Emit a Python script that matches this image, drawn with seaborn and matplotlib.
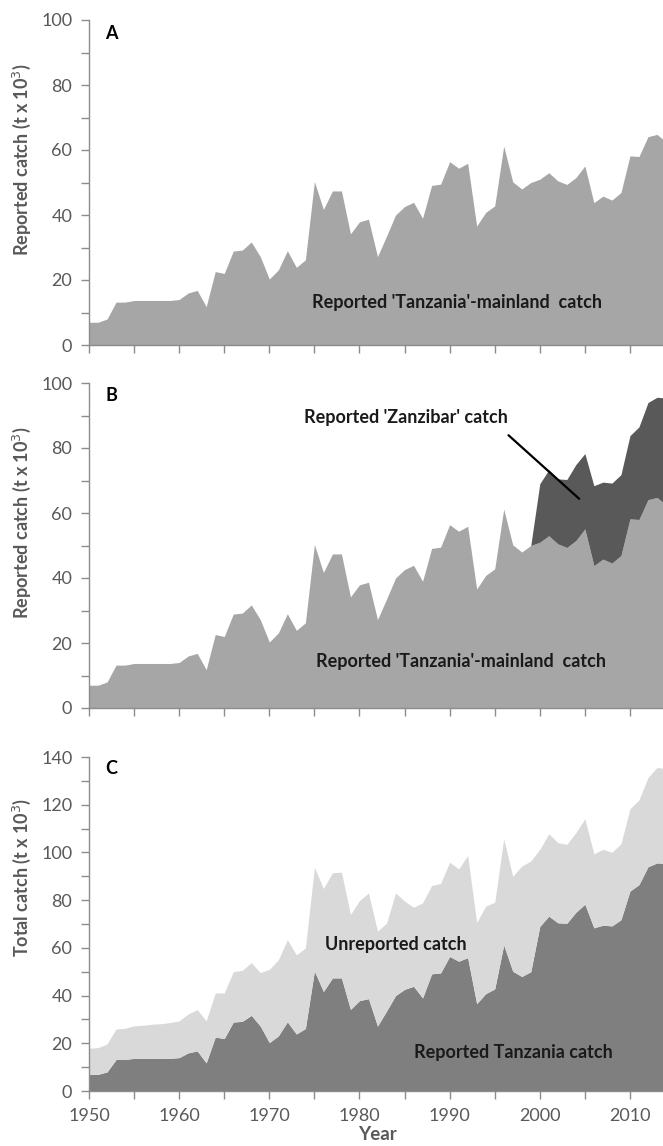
import numpy as np
import matplotlib
matplotlib.use("Agg")
import matplotlib.pyplot as plt
from matplotlib.ticker import MultipleLocator
import seaborn as sns

# data (t x 10^3)
years = list(range(1950, 2015))

mainland = [7.0, 7.0, 8.0, 13.2, 13.2, 13.7, 13.7, 13.7, 13.7, 13.7,
            14.0, 16.0, 16.8, 11.8, 22.6, 22.0, 28.9, 29.2, 31.7, 27.2,
            20.3, 23.1, 29.0, 23.9, 26.2, 50.3, 41.7, 47.4, 47.4, 34.2,
            37.9, 38.7, 27.2, 33.5, 40.0, 42.6, 43.9, 39.0, 49.1, 49.5,
            56.4, 54.4, 55.9, 36.6, 40.8, 42.8, 61.2, 50.2, 48.0, 50.0,
            51.0, 53.0, 50.5, 49.4, 51.5, 55.1, 43.8, 45.8, 44.6, 46.9,
            58.2, 58.0, 64.1, 64.8, 62.5]

# Zanzibar reported catch only from 2000 onwards
zanzibar_years = list(range(2000, 2015))
zanzibar = [18.0, 20.3, 20.0, 20.9, 23.4, 23.2, 24.6, 23.7, 24.6, 24.9,
            25.6, 28.5, 29.9, 30.8, 32.9]

total = [17.9, 18.2, 19.7, 26.0, 26.3, 27.3, 27.6, 28.0, 28.2, 28.7,
         29.4, 32.3, 34.1, 29.4, 41.1, 41.1, 50.0, 50.6, 53.8, 49.6,
         51.0, 55.0, 63.4, 57.1, 59.9, 93.8, 84.9, 91.5, 91.7, 74.0,
         79.8, 83.0, 67.0, 70.4, 83.0, 79.6, 77.0, 78.9, 86.1, 87.0,
         95.9, 93.1, 98.7, 70.7, 77.5, 79.1, 105.7, 90.0, 94.3, 96.4,
         101.3, 107.8, 104.1, 103.4, 108.3, 114.1, 99.4, 101.3, 100.1, 103.6,
         118.3, 122.0, 131.4, 135.6, 135.2]

x = np.array(years)
main = np.array(mainland)
zan = np.zeros(len(years))
for yr, v in zip(zanzibar_years, zanzibar):
    zan[years.index(yr)] = v
reported = main + zan
tot = np.array(total)

sns.set_theme(style="ticks")
plt.rcParams['font.family'] = ['Lato', 'DejaVu Sans']

axis_grey = '#8c8c8c'
label_grey = '#595959'
text_col = '#1a1a1a'

fig = plt.figure(figsize=(6.63, 11.46), dpi=100)
W, H = 663, 1146
left = 89 / W
width = (666 - 89) / W

axA = fig.add_axes([left, 1 - 345 / H, width, 325 / H])
axB = fig.add_axes([left, 1 - 708 / H, width, 325 / H])
axC = fig.add_axes([left, 1 - 1091 / H, width, 334 / H])

# panel A
axA.fill_between(x, 0, main, color='#a6a6a6', lw=0)
# panel B
axB.fill_between(x, 0, main, color='#a6a6a6', lw=0)
axB.fill_between(x, main, reported, where=x >= 1999, color='#595959', lw=0)
# panel C
axC.fill_between(x, 0, reported, color='#7f7f7f', lw=0)
axC.fill_between(x, reported, tot, color='#d9d9d9', lw=0)

for ax, ymax in [(axA, 100), (axB, 100), (axC, 140)]:
    ax.set_xlim(1950, 2014)
    ax.set_ylim(0, ymax)
    ax.yaxis.set_major_locator(MultipleLocator(20))
    ax.yaxis.set_minor_locator(MultipleLocator(10))
    ax.set_xticks(range(1950, 2015, 5))
    sns.despine(ax=ax)
    for s in ['left', 'bottom']:
        ax.spines[s].set_color(axis_grey)
        ax.spines[s].set_linewidth(1.0)
    ax.tick_params(which='both', direction='out', length=6, width=1,
                   color=axis_grey, labelcolor=label_grey, labelsize=13, pad=6)
    ax.set_facecolor('none')

for ax in (axA, axB):
    ax.set_xticklabels([])
axC.set_xticklabels([str(y) if y % 10 == 0 else '' for y in range(1950, 2015, 5)])

ylab_kw = dict(fontsize=13, fontweight='bold', color=label_grey)
axA.set_ylabel("Reported catch (t x 10$^3$)", **ylab_kw)
axB.set_ylabel("Reported catch (t x 10$^3$)", **ylab_kw)
axC.set_ylabel("Total catch (t x 10$^3$)", **ylab_kw)
axA.yaxis.set_label_coords(-0.097, 0.57)
axB.yaxis.set_label_coords(-0.097, 0.57)
axC.yaxis.set_label_coords(-0.097, 0.64)
axC.set_xlabel("Year", fontsize=13.5, fontweight='bold', color=label_grey, labelpad=2)

# panel letters
for ax, lab, yy in [(axA, 'A', 0.985), (axB, 'B', 0.988), (axC, 'C', 0.99)]:
    ax.text(0.028, yy, lab, transform=ax.transAxes, fontsize=13,
            fontweight='bold', color='black', va='top', ha='left')

txt_kw = dict(ha='center', va='center', fontsize=13, fontweight='bold', color=text_col)
axA.text(1990.8, 13, "Reported 'Tanzania'-mainland  catch", **txt_kw)
axB.text(1991.3, 14.2, "Reported 'Tanzania'-mainland  catch", **txt_kw)
axB.text(1985.2, 89.5, "Reported 'Zanzibar' catch", **txt_kw)
axB.annotate('', xy=(2004.6, 63.8), xytext=(1996.3, 84.5),
             arrowprops=dict(arrowstyle='-', color='black', lw=1.6))
axC.text(1984.0, 61.2, "Unreported catch", **txt_kw)
axC.text(1997.1, 16.3, "Reported Tanzania catch", **txt_kw)

fig.savefig("out.png", dpi=100)
